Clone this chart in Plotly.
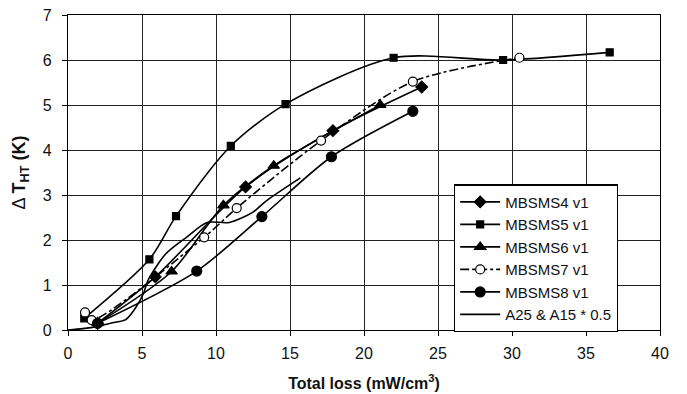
import plotly.graph_objects as go

# ---- data ----
s4_x = [2.0, 5.9, 12.0, 17.9, 23.9]
s4_y = [0.15, 1.18, 3.18, 4.43, 5.40]

s5_x = [1.1, 5.5, 7.3, 11.0, 14.7, 22.0, 29.4, 36.6]
s5_y = [0.26, 1.57, 2.53, 4.09, 5.02, 6.05, 6.00, 6.17]

s6_x = [2.0, 7.0, 10.5, 13.9, 21.1]
s6_y = [0.15, 1.30, 2.77, 3.65, 5.00]

s7_x = [1.15, 1.6, 9.2, 11.4, 17.1, 23.3, 30.5]
s7_y = [0.39, 0.22, 2.06, 2.71, 4.21, 5.52, 6.05]

s8_x = [2.0, 8.7, 13.1, 17.8, 23.3]
s8_y = [0.15, 1.31, 2.52, 3.85, 4.86]

a_x = [0.0, 1.0, 2.0, 3.0, 3.9, 4.6, 5.1, 5.4, 6.6, 8.0, 9.4, 10.9, 12.5, 13.4, 15.7]
a_y = [0.0, 0.03, 0.08, 0.16, 0.23, 0.51, 0.81, 1.10, 1.69, 2.06, 2.39, 2.39, 2.62, 2.87, 3.38]

names = ["MBSMS4 v1", "MBSMS5 v1", "MBSMS6 v1", "MBSMS7 v1", "MBSMS8 v1", "A25 & A15 * 0.5"]

x_ticks = [0, 5, 10, 15, 20, 25, 30, 35, 40]
y_ticks = [0, 1, 2, 3, 4, 5, 6, 7]

FONT = "Arial, Liberation Sans, sans-serif"
BLK = "black"

fig = go.Figure()

def add(x, y, name, symbol, size, dash="solid", fill=BLK, mode="lines+markers"):
    fig.add_trace(go.Scatter(
        x=x, y=y, name=name, mode=mode,
        line=dict(color=BLK, width=1.6, dash=dash, shape="spline", smoothing=0.8),
        marker=dict(symbol=symbol, size=size, color=fill, line=dict(color=BLK, width=1.2)),
    ))

add(s4_x, s4_y, names[0], "diamond", 9)
add(s5_x, s5_y, names[1], "square", 7)
add(s6_x, s6_y, names[2], "triangle-up", 10)
add(s7_x, s7_y, names[3], "circle", 9, dash="dashdot", fill="white")
add(s8_x, s8_y, names[4], "circle", 10)
fig.add_trace(go.Scatter(x=a_x, y=a_y, name=names[5], mode="lines",
                         line=dict(color=BLK, width=1.6, shape="spline", smoothing=0.8)))

fig.update_layout(
    width=687, height=394,
    margin=dict(l=60, r=35, t=7, b=72),
    paper_bgcolor="white", plot_bgcolor="white",
    font=dict(family=FONT, size=16, color="#111"),
    showlegend=True,
    legend=dict(
        x=0.652, y=0.462, xanchor="left", yanchor="top",
        bgcolor="white", bordercolor=BLK, borderwidth=1.2,
        font=dict(family=FONT, size=15, color="#111"),
        tracegroupgap=0, itemwidth=40,
    ),
)

fig.update_xaxes(
    range=[0, 40], tickvals=x_ticks, ticktext=[str(v) for v in x_ticks],
    showgrid=True, gridcolor="#222", gridwidth=1.3,
    showline=True, linecolor=BLK, linewidth=1.3, mirror=True,
    ticks="outside", ticklen=5, tickcolor=BLK, zeroline=False,
    automargin=False, ticklabelstandoff=4, ticklabeloverflow="allow",
    tickfont=dict(family=FONT, size=16, color="#111"),
    title=dict(text="<b>Total loss (mW/cm<sup>3</sup>)</b>", font=dict(family=FONT, size=16, color="#111"), standoff=16),
)
fig.update_yaxes(
    range=[0, 7], tickvals=y_ticks, ticktext=[str(v) for v in y_ticks],
    showgrid=True, gridcolor="#222", gridwidth=1.3,
    showline=True, linecolor=BLK, linewidth=1.3, mirror=True,
    ticks="outside", ticklen=5, tickcolor=BLK, zeroline=False,
    automargin=False, ticklabelstandoff=7, ticklabeloverflow="allow",
    tickfont=dict(family=FONT, size=16, color="#111"),
    title=dict(text="Δ <b>T<sub>HT</sub> (K)</b>", font=dict(family=FONT, size=18, color="#111"), standoff=12),
)

fig.write_html("out.html")
